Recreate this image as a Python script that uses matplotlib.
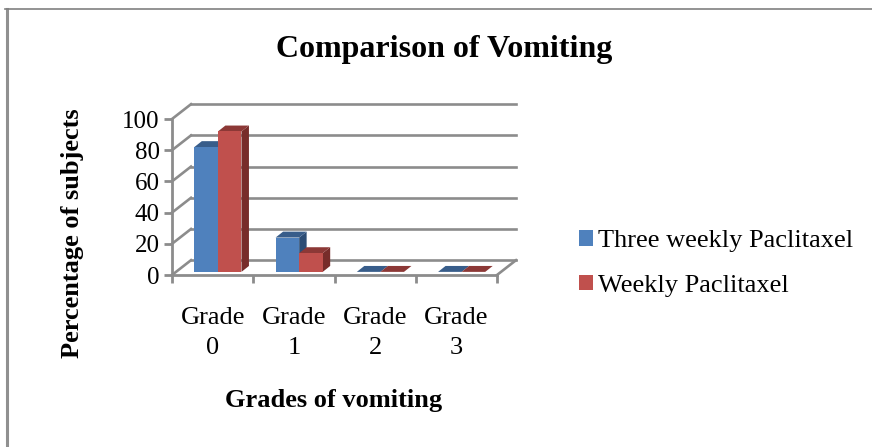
import matplotlib.pyplot as plt
from matplotlib.lines import Line2D
from matplotlib.patches import Polygon

categories = ['Grade\n0', 'Grade\n1', 'Grade\n2', 'Grade\n3']
three_weekly = [80, 22, 0, 0]
weekly = [90, 12, 0, 0]
y_ticks = [0, 20, 40, 60, 80, 100]

W, H = 872, 447
GREY = '#8c8c8c'
plt.rcParams['font.family'] = ['Liberation Serif', 'DejaVu Serif']

fig = plt.figure(figsize=(W / 100, H / 100), dpi=100)
# axes = front plane of the fake 3d box
ax = fig.add_axes([172 / W, 1 - 275 / H, 325 / W, 156 / H])
ax.set_xlim(0, 4)
ax.set_ylim(0, 100)
ax.patch.set_alpha(0)
ax.set_xticks(range(5))
ax.set_yticks(y_ticks)
ax.set_xticklabels([])
ax.tick_params(axis='x', length=6, width=2, color=GREY)
ax.tick_params(axis='y', length=6, width=2, color=GREY, labelsize=18, pad=3)
for s in ['top', 'right']:
    ax.spines[s].set_visible(False)
for s in ['left', 'bottom']:
    ax.spines[s].set_color(GREY)
    ax.spines[s].set_linewidth(2)

# box depth, in data units
depth_x, depth_y = 0.234, 9.5
for v in y_ticks:
    ax.plot([depth_x, 4 + depth_x], [v + depth_y, v + depth_y], color=GREY, lw=1.9, clip_on=False, zorder=1)
    ax.plot([0, depth_x], [v, v + depth_y], color=GREY, lw=1.9, clip_on=False, zorder=1)
ax.plot([4, 4 + depth_x], [0, depth_y], color=GREY, lw=1.9, clip_on=False, zorder=1)

# bars sit a little behind the front edge
bar_w, bar_dx, bar_dy = 0.29, 0.092, 3.8
shift_x, base = 0.065, 2


def bars(offset, values, front, side, top, label):
    xs = [i + 0.5 + shift_x + offset for i in range(len(values))]
    for x, v in zip(xs, values):
        l, r = x - bar_w / 2, x + bar_w / 2
        t = base + v
        if v > 0:
            ax.add_patch(Polygon([(r, base), (r + bar_dx, base + bar_dy), (r + bar_dx, t + bar_dy), (r, t)],
                                 fc=side, ec='none', zorder=3, clip_on=False))
        ax.add_patch(Polygon([(l, t), (l + bar_dx, t + bar_dy), (r + bar_dx, t + bar_dy), (r, t)],
                             fc=top, ec='none', zorder=3, clip_on=False))
    return ax.bar(xs, values, bar_w, bottom=base, color=front, zorder=4, label=label)


bars(-bar_w / 2, three_weekly, '#4f81bd', '#2c4d75', '#385d8a', 'Three weekly Paclitaxel')
bars(bar_w / 2, weekly, '#c0504d', '#772c2a', '#8c3836', 'Weekly Paclitaxel')

for i, c in enumerate(categories):
    ax.annotate(c, xy=(i + 0.5, 0), xycoords=('data', 'axes fraction'), xytext=(0, -23),
                textcoords='offset points', ha='center', va='top', fontsize=19, linespacing=1.5)

fig.text(444 / W, 1 - 50 / H, 'Comparison of Vomiting', ha='center', va='center', fontsize=23, fontweight='bold')
fig.text(73 / W, 1 - 233 / H, 'Percentage of subjects', rotation=90, ha='center', va='center',
         fontsize=19, fontweight='bold')
fig.text(334 / W, 1 - 401 / H, 'Grades of vomiting', ha='center', va='center', fontsize=19, fontweight='bold')

ax.legend(loc='center left', bbox_to_anchor=(579 / W, 1 - 263.5 / H), bbox_transform=fig.transFigure,
          frameon=False, fontsize=19, handlelength=0.53, handleheight=0.53, handletextpad=0.2,
          labelspacing=0.84, borderpad=0, borderaxespad=0)

# page border, top and left only
fig.add_artist(Line2D([6.5 / W, 6.5 / W], [0, 1 - 8.5 / H], color='#909090', lw=2.2))
fig.add_artist(Line2D([5 / W, 1], [1 - 8.5 / H, 1 - 8.5 / H], color='#808080', lw=1.2))

fig.savefig('out.png', dpi=100)
